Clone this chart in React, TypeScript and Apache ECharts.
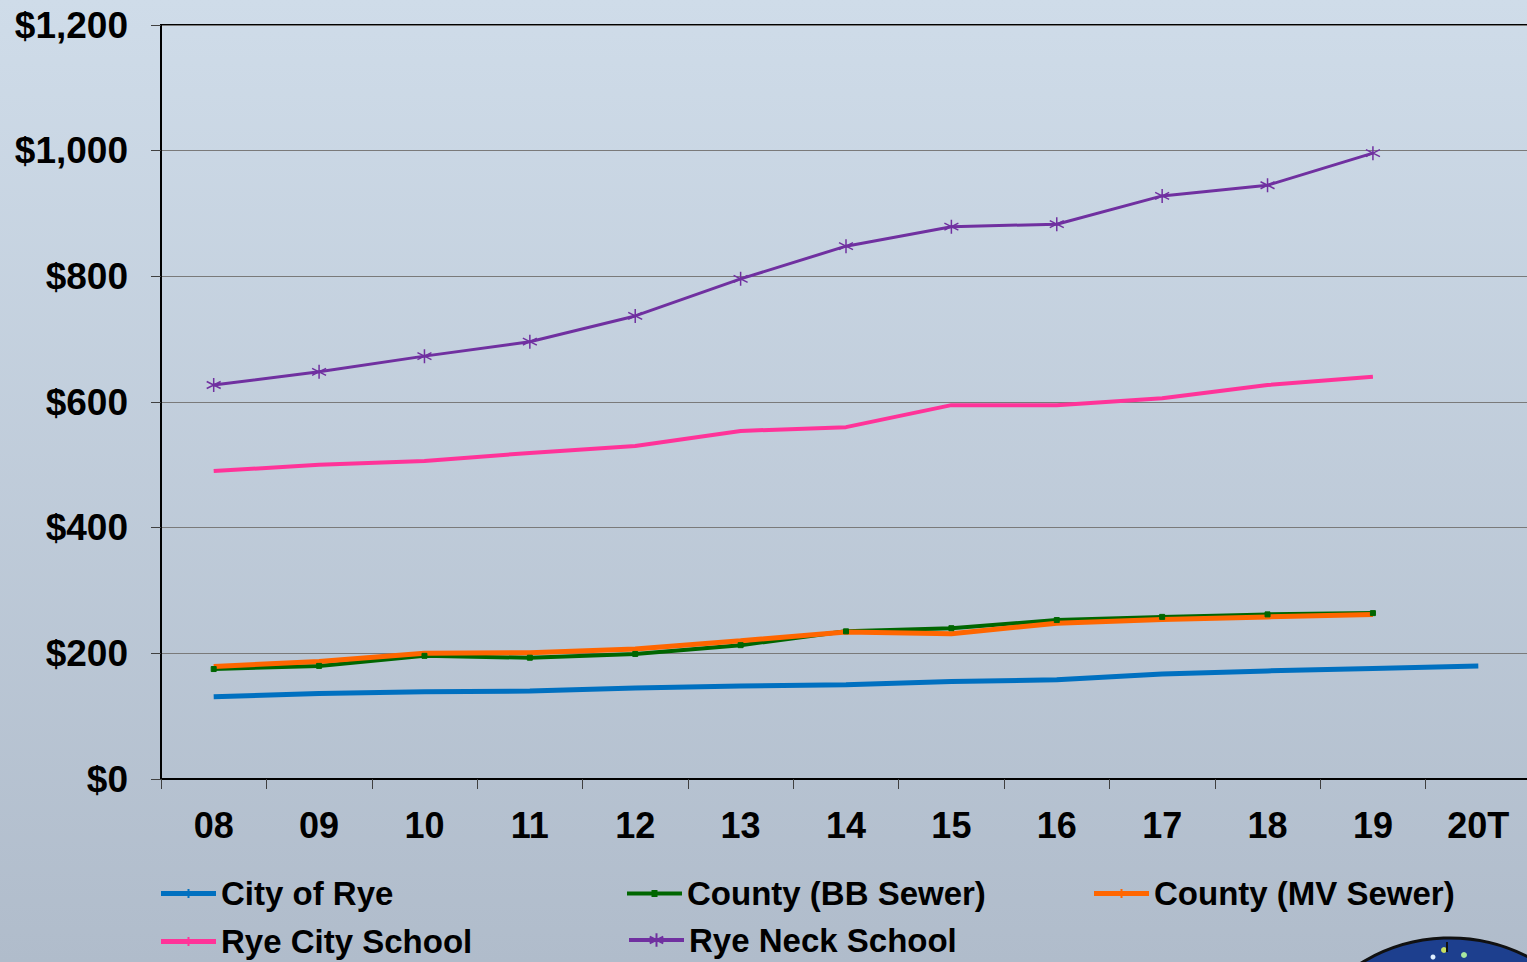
import React, { useEffect, useRef } from "react";
import * as echarts from "echarts";

const years = ["08", "09", "10", "11", "12", "13", "14", "15", "16", "17", "18", "19", "20T"];
const cityOfRye = [131, 136, 139, 140, 145, 148, 150, 155, 158, 167, 172, 176, 180];
const countyBB = [175, 180, 196, 193, 199, 213, 235, 240, 253, 258, 262, 264, null];
const countyMV = [179, 187, 200, 201, 207, 220, 234, 231, 248, 254, 258, 262, null];
const ryeCitySchool = [490, 500, 506, 519, 530, 554, 560, 595, 595, 606, 627, 640, null];
const ryeNeckSchool = [627, 648, 673, 696, 737, 796, 848, 879, 883, 928, 945, 996, null];
const yTicks = [0, 200, 400, 600, 800, 1000, 1200];

const FONT = "Arial, 'Liberation Sans', sans-serif";
const STAR = "path://M5,0L5,10M0.7,2.5L9.3,7.5M0.7,7.5L9.3,2.5";
const ICON_TICK = "path://M0,0L55,0L55,14L0,14ZM0,4.5L55,4.5L55,9.5L0,9.5Z";
const ICON_BAR_TICK = "path://M0,4.5L26.5,4.5L26.5,2.5L28.5,2.5L28.5,4.5L55,4.5L55,9.5L28.5,9.5L28.5,11.5L26.5,11.5L26.5,9.5L0,9.5Z";
const ICON_BAR_SQUARE = "path://M0,5L24.5,5L24.5,3.5L30.5,3.5L30.5,5L55,5L55,9L30.5,9L30.5,10.5L24.5,10.5L24.5,9L0,9Z";

export default function App() {
  const ref = useRef<HTMLDivElement>(null);
  useEffect(() => {
    document.body.style.margin = "0";
    const chart = echarts.init(ref.current!, null, { renderer: "svg" });
    const mk = (name: string, data: (number | null)[], color: string, symbol: any, size: any, width: number, extra: any = {}) => ({
      name,
      type: "line",
      data,
      symbol,
      symbolSize: size,
      showSymbol: symbol !== "none",
      lineStyle: { color, width },
      itemStyle: { color, borderColor: color, borderWidth: 1 },
      emphasis: { disabled: true },
      ...extra,
    });
    const legendPos: any[] = [
      { name: "City of Rye", left: 161, top: 877, h: 14, icon: ICON_BAR_TICK },
      { name: "County (BB Sewer)", left: 627, top: 877, h: 14, icon: ICON_BAR_SQUARE },
      { name: "County (MV Sewer)", left: 1094, top: 877, h: 14, icon: ICON_BAR_TICK },
      { name: "Rye City School", left: 161, top: 925, h: 14, icon: ICON_BAR_TICK },
      { name: "Rye Neck School", left: 627, top: 925, h: 17, icon: null },
    ];
    void ICON_TICK;
    chart.setOption({
      animation: false,
      backgroundColor: {
        type: "linear", x: 0, y: 0, x2: 0, y2: 1,
        colorStops: [
          { offset: 0, color: "#cfdce9" },
          { offset: 1, color: "#b0bccb" },
        ],
      },
      grid: {
        left: 161, top: 25, right: 0, bottom: 183,
        show: true, borderColor: "#000", borderWidth: 2, backgroundColor: "transparent",
      },
      legend: legendPos.map((l) => ({
        data: [l.icon ? { name: l.name, icon: l.icon } : { name: l.name }],
        left: l.left,
        top: l.top + (14 - l.h) / 2,
        itemWidth: 55,
        itemHeight: l.h,
        padding: 0,
        selectedMode: false,
        lineStyle: { width: 4 },
        itemStyle: l.icon ? { borderWidth: 0 } : {},
        textStyle: { fontFamily: FONT, fontWeight: "bold", fontSize: 33, color: "#000" },
      })),
      xAxis: {
        type: "category",
        data: years,
        boundaryGap: true,
        axisLine: { lineStyle: { color: "#000", width: 2 } },
        axisTick: { show: true, length: 10, lineStyle: { color: "#404040", width: 1 } },
        axisLabel: { fontFamily: FONT, fontWeight: "bold", fontSize: 36, color: "#000", margin: 28 },
        splitLine: { show: false },
      },
      yAxis: {
        type: "value",
        min: yTicks[0],
        max: yTicks[yTicks.length - 1],
        interval: 200,
        axisLine: { show: true, lineStyle: { color: "#000", width: 2 } },
        axisTick: { show: true, length: 10, lineStyle: { color: "#404040", width: 1 } },
        axisLabel: {
          fontFamily: FONT, fontWeight: "bold", fontSize: 37, color: "#000", margin: 33,
          formatter: (v: number) => "$" + v.toLocaleString("en-US"),
        },
        splitLine: { lineStyle: { color: "#7a7a7a", width: 1 } },
      },
      series: [
        mk("City of Rye", cityOfRye, "#0070c0", "none", 0, 5),
        mk("County (BB Sewer)", countyBB, "#006600", "rect", 5, 4),
        mk("County (MV Sewer)", countyMV, "#ff6600", "none", 0, 5),
        mk("Rye City School", ryeCitySchool, "#ff3399", "none", 0, 4),
        mk("Rye Neck School", ryeNeckSchool, "#7030a0", STAR, 14, 3, {
          itemStyle: { color: "none", borderColor: "#7030a0", borderWidth: 1.5 },
        }),
      ],
      graphic: [
        {
          type: "circle", shape: { cx: 1450, cy: 1108, r: 170 },
          style: { fill: "#1d3f8e", stroke: "#111", lineWidth: 3 }, silent: true,
        },
        { type: "circle", shape: { cx: 1444, cy: 950, r: 3 }, style: { fill: "#c8e060" }, silent: true },
        { type: "circle", shape: { cx: 1464, cy: 955, r: 3 }, style: { fill: "#a8e8a0" }, silent: true },
        { type: "circle", shape: { cx: 1433, cy: 957, r: 2.5 }, style: { fill: "#e0f0ff" }, silent: true },
        { type: "line", shape: { x1: 1447, y1: 942, x2: 1447, y2: 952 }, style: { stroke: "#111", lineWidth: 2 }, silent: true },
      ],
    });
    return () => chart.dispose();
  }, []);
  return (
    <div style={{ position: "absolute", left: 0, top: 0, width: 1527, height: 962, overflow: "hidden" }}>
      <div ref={ref} style={{ width: 1531, height: 962 }} />
    </div>
  );
}
